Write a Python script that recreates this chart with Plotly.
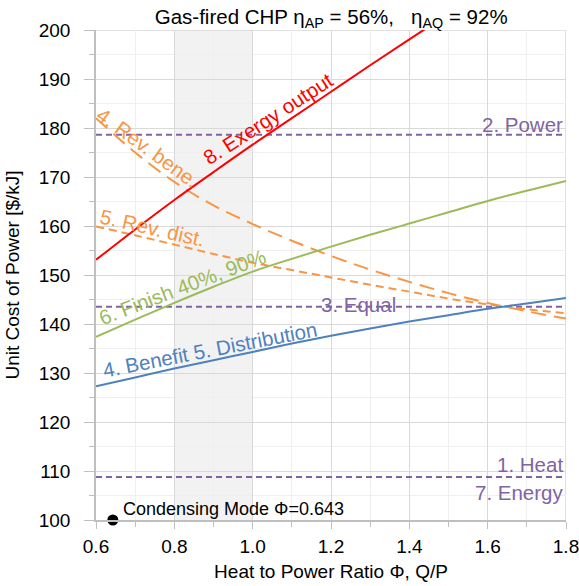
import plotly.graph_objects as go

# Data
phi = [0.6, 0.7, 0.8, 0.9, 1.0, 1.1, 1.2, 1.3, 1.4, 1.5, 1.6, 1.7, 1.8]
exergy_output = [153.1, 159.3, 165.3, 171.0, 176.6, 182.0, 187.4, 192.8, 198.1, 203.3, 208.4, 213.4, 218.3]
rev_bene = [182.0, 175.0, 169.0, 164.2, 160.4, 157.0, 153.9, 151.1, 148.6, 146.3, 144.3, 142.6, 141.1]
rev_dist = [159.9, 158.1, 156.2, 154.3, 152.5, 151.0, 149.5, 148.0, 146.6, 145.2, 144.0, 143.0, 142.2]
finish = [137.4, 140.9, 144.3, 147.6, 150.7, 153.3, 155.8, 158.2, 160.5, 162.8, 165.1, 167.2, 169.2]
benefit_dist = [127.3, 129.1, 130.9, 132.6, 134.3, 136.0, 137.6, 139.1, 140.5, 141.8, 143.1, 144.2, 145.3]
x_ticks = [0.6, 0.8, 1.0, 1.2, 1.4, 1.6, 1.8]
x_tick_labels = ["0.6", "0.8", "1.0", "1.2", "1.4", "1.6", "1.8"]
x_range = [0.6, 1.8]
y_range = [100, 200]
line_x = [0.6, 1.8]
power_level = 178.6
equal_level = 143.5
heat_level = 108.8
condensing_phi = 0.643
condensing_cost = 100
shade_range = [0.8, 1.0]

RED = "#FF0000"
ORANGE = "#F79646"
GREEN = "#9BBB59"
BLUE = "#4F81BD"
PURPLE = "#8064A2"
GRID = "#D9D9D9"
FONT = "Liberation Sans, Arial, sans-serif"

fig = go.Figure()

def hline(level):
    fig.add_trace(go.Scatter(x=line_x, y=[level, level], mode="lines",
                             line=dict(color=PURPLE, width=2, dash="6px,4px"),
                             showlegend=False, hoverinfo="skip"))

hline(power_level)
hline(equal_level)
hline(heat_level)

fig.add_trace(go.Scatter(x=phi, y=rev_bene, mode="lines", line_shape="spline",
                         line=dict(color=ORANGE, width=2, dash="15px,8px"), showlegend=False))
fig.add_trace(go.Scatter(x=phi, y=rev_dist, mode="lines", line_shape="spline",
                         line=dict(color=ORANGE, width=2, dash="8px,5px"), showlegend=False))
fig.add_trace(go.Scatter(x=phi, y=finish, mode="lines", line_shape="spline",
                         line=dict(color=GREEN, width=2), showlegend=False))
fig.add_trace(go.Scatter(x=phi, y=benefit_dist, mode="lines", line_shape="spline",
                         line=dict(color=BLUE, width=2), showlegend=False))
fig.add_trace(go.Scatter(x=phi, y=exergy_output, mode="lines", line_shape="spline",
                         line=dict(color=RED, width=2), showlegend=False))
fig.add_trace(go.Scatter(x=[condensing_phi], y=[condensing_cost], mode="markers",
                         marker=dict(color="black", size=11), showlegend=False, cliponaxis=False))

fig.add_shape(type="rect", xref="x", yref="y", x0=shade_range[0], x1=shade_range[1],
              y0=y_range[0], y1=y_range[1], fillcolor="#F2F2F2", line=dict(width=0), layer="below")
# border grid lines at the right and top edges
fig.add_shape(type="line", xref="x", yref="y", x0=x_range[1], x1=x_range[1],
              y0=y_range[0], y1=y_range[1], line=dict(color=GRID, width=1.5), layer="below")
fig.add_shape(type="line", xref="x", yref="y", x0=x_range[0], x1=x_range[1],
              y0=y_range[1], y1=y_range[1], line=dict(color=GRID, width=1.5), layer="below")

def ann(text, x, y, color, angle=0, xanchor="center", size=20.5):
    fig.add_annotation(x=x, y=y, text=text, showarrow=False, textangle=angle,
                       xanchor=xanchor, yanchor="middle",
                       font=dict(color=color, size=size, family=FONT))

ann("8. Exergy output", 1.039, 182.0, RED, -33)
ann("4. Rev. bene.", 0.733, 176.1, ORANGE, 36)
ann("5. Rev. dist.", 0.743, 159.6, ORANGE, 13)
ann("6. Finish 40%, 90%", 0.822, 147.6, GREEN, -21)
ann("4. Benefit 5. Distribution", 0.891, 134.8, BLUE, -11)
ann("3. Equal", 1.269, 143.9, PURPLE)
ann("2. Power", 1.797, 180.8, PURPLE, xanchor="right")
ann("1. Heat", 1.797, 111.4, PURPLE, xanchor="right")
ann("7. Energy", 1.797, 105.7, PURPLE, xanchor="right")
ann("Condensing Mode Φ=0.643", 0.664, 102.2, "black", xanchor="left", size=18)

fig.update_layout(
    width=579, height=586,
    margin=dict(l=96, r=13, t=30, b=66),
    plot_bgcolor="white", paper_bgcolor="white",
    font=dict(family=FONT, size=19, color="black"),
    title=dict(text="Gas-fired CHP η<sub>AP</sub> = 56%,   η<sub>AQ</sub> = 92%",
               x=0.572, xanchor="center", y=0.971, yanchor="middle",
               font=dict(size=20.5, family=FONT, color="black")),
    xaxis=dict(range=x_range, tickmode="array", tickvals=x_ticks, ticktext=x_tick_labels,
               automargin=False, ticklabeloverflow="allow",
               showgrid=True, gridcolor=GRID, gridwidth=1,
               showline=True, linecolor="#BFBFBF", linewidth=1.5,
               ticks="outside", ticklen=7, tickcolor="#BFBFBF",
               ticklabelstandoff=1,
               minor=dict(dtick=0.1, tick0=0.6, showgrid=True, gridcolor="#EFEFEF",
                          ticks="outside", ticklen=5, tickcolor="#BFBFBF"),
               zeroline=False,
               title=dict(text="Heat to Power Ratio Φ, Q/P", standoff=9,
                          font=dict(size=19, family=FONT))),
    yaxis=dict(range=y_range, dtick=10,
               automargin=False, ticklabeloverflow="allow",
               showgrid=True, gridcolor=GRID, gridwidth=1,
               showline=True, linecolor="#BFBFBF", linewidth=1.5,
               ticks="outside", ticklen=10, tickcolor="#BFBFBF",
               ticklabelstandoff=10,
               minor=dict(dtick=5, showgrid=True, gridcolor="#EFEFEF",
                          ticks="outside", ticklen=5, tickcolor="#BFBFBF"),
               zeroline=False,
               title=dict(text="Unit Cost of Power [$/kJ]", standoff=14,
                          font=dict(size=19, family=FONT))),
)

fig.write_html("out.html")
